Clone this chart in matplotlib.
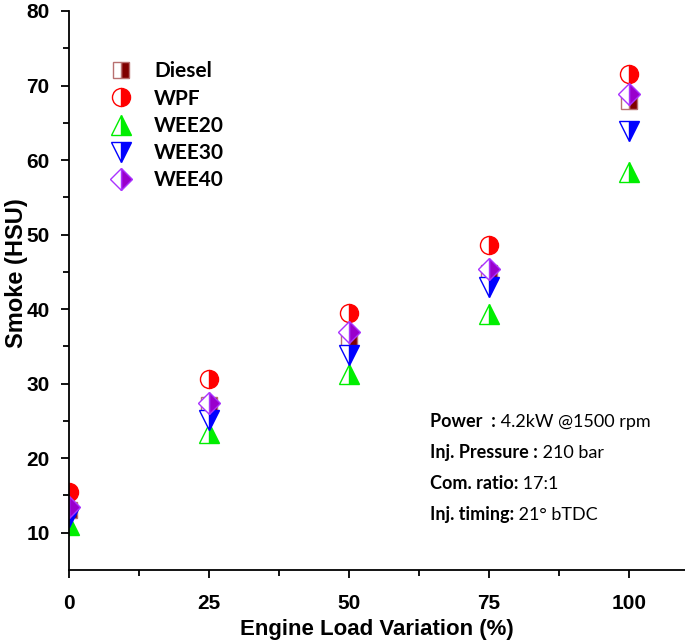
import matplotlib
matplotlib.use("Agg")
import matplotlib.pyplot as plt
from matplotlib.offsetbox import TextArea, HPacker, VPacker, AnchoredOffsetbox

# Dados
load = [0, 25, 50, 75, 100]
diesel = [13.0, 27.1, 35.9, 44.8, 67.9]
wpf = [15.5, 30.6, 39.5, 48.6, 71.5]
wee20 = [11.0, 23.4, 31.3, 39.3, 58.4]
wee30 = [12.1, 25.1, 33.8, 43.0, 63.9]
wee40 = [13.4, 27.4, 36.9, 45.4, 68.9]

info_bold = ["Power  :", "Inj. Pressure :", "Com. ratio:", "Inj. timing:"]
info_reg = [" 4.2kW @1500 rpm", " 210 bar", " 17:1", " 21\u00b0 bTDC"]

tick_font = ["Liberation Sans", "DejaVu Sans"]
leg_font = ["Lato", "DejaVu Sans"]

fig = plt.figure(figsize=(6.85, 6.43), dpi=100)
ax = fig.add_axes([69 / 685, 1 - 570 / 643, 1 - 69 / 685, (570 - 11) / 643])

series = [
    (diesel, "Diesel", "s", "#800000", "#b87070", 12),
    (wpf, "WPF", "o", "#ff0000", "#ff0000", 13),
    (wee20, "WEE20", "^", "#00ee00", "#00ee00", 15),
    (wee30, "WEE30", "v", "#0000ff", "#0000ff", 15),
    (wee40, "WEE40", "D", "#9900cc", "#aa33ff", 11.5),
]
for vals, name, mk, fc, ec, ms in series:
    ax.plot(load, vals, linestyle="none", marker=mk, markersize=ms,
            fillstyle="right", markerfacecolor=fc, markerfacecoloralt="white",
            markeredgecolor=ec, markeredgewidth=1.0, label=name)

ax.set_xlim(0, 110)
ax.set_ylim(5, 80)
ax.set_xticks(load)
ax.set_xticks([12.5, 37.5, 62.5, 87.5], minor=True)
ax.set_yticks(range(10, 81, 10))
ax.set_yticks(range(15, 80, 10), minor=True)
ax.spines["top"].set_visible(False)
ax.spines["right"].set_visible(False)
for s in ("left", "bottom"):
    ax.spines[s].set_linewidth(1.3)
ax.tick_params(which="major", direction="out", length=6, width=1.3)
ax.tick_params(which="minor", direction="out", length=4, width=1.3)
ax.tick_params(axis="x", which="major", pad=11)
ax.tick_params(axis="y", which="major", pad=8)
for lab in ax.get_xticklabels() + ax.get_yticklabels():
    lab.set_family(tick_font)
    lab.set_fontweight("bold")
    lab.set_fontsize(15)

ax.set_xlabel("Engine Load Variation (%)", family=tick_font, fontweight="bold", fontsize=16)
ax.set_ylabel("Smoke (HSU)", family=tick_font, fontweight="bold", fontsize=17)
ax.xaxis.set_label_coords(0.5, -0.088)
ax.yaxis.set_label_coords(-0.066, 0.531)

ax.legend(loc="upper left", bbox_to_anchor=(0.037, 0.925), frameon=False,
          prop={"family": leg_font, "weight": "bold", "size": 15},
          handletextpad=0.6, labelspacing=0.35, borderaxespad=0)

rows = []
for b, r in zip(info_bold, info_reg):
    tb = TextArea(b, textprops=dict(family=leg_font, fontweight="bold", fontsize=13))
    tr = TextArea(r, textprops=dict(family=leg_font, fontsize=13))
    rows.append(HPacker(children=[tb, tr], align="baseline", pad=0, sep=0))
box = VPacker(children=rows, align="left", pad=0, sep=10)
anch = AnchoredOffsetbox(loc="upper left", child=box, frameon=False,
                         bbox_to_anchor=(430 / 685, 1 - 413 / 643),
                         bbox_transform=fig.transFigure, borderpad=0, pad=0)
ax.add_artist(anch)

fig.savefig("out.png", dpi=100)
